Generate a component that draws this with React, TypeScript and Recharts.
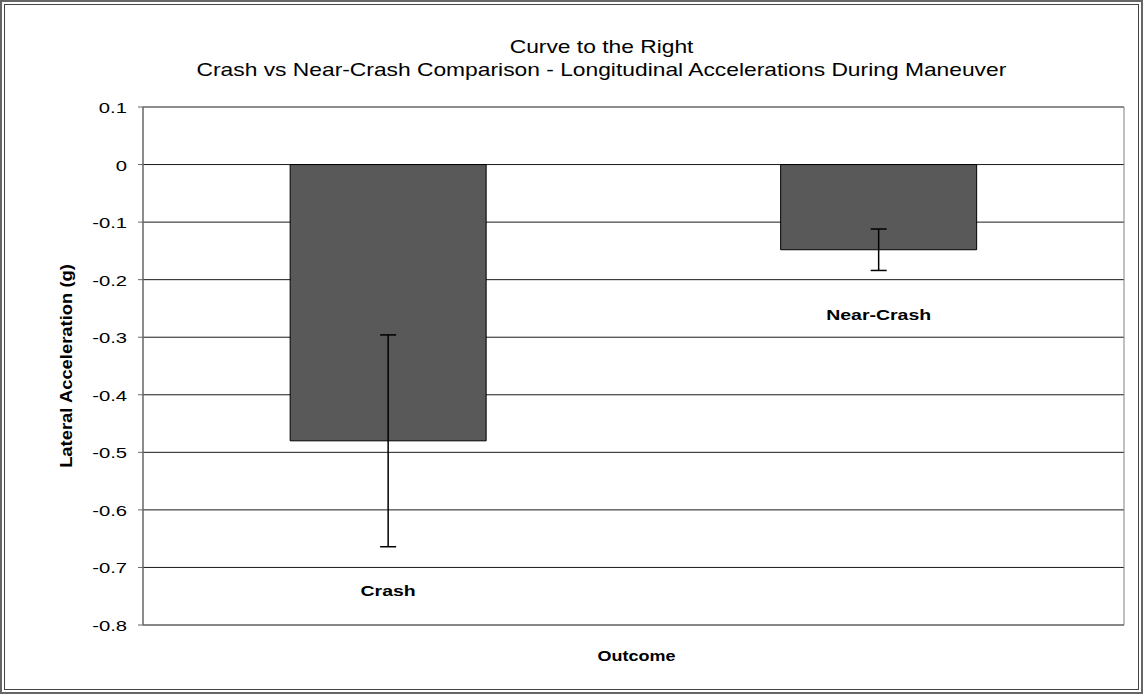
import { BarChart, Bar, XAxis, YAxis, CartesianGrid, ErrorBar, LabelList } from "recharts";

// values
const outcomes = ["Crash", "Near-Crash"];
const meanAccel = [-0.48, -0.148];
const accelError = [0.184, 0.036];
const yTicks = [0.1, 0, -0.1, -0.2, -0.3, -0.4, -0.5, -0.6, -0.7, -0.8];

const titleLines = [
  "Curve to the Right",
  "Crash vs Near-Crash Comparison - Longitudinal Accelerations During Maneuver",
];

const chartData = outcomes.map((name, i) => ({
  name,
  value: meanAccel[i],
  err: accelError[i],
}));

const FONT = "'Liberation Sans', Arial, sans-serif";

// the original scan is stretched sideways, so text gets a horizontal scale
const WideText = ({ x, y, sx = 1.3, size = 15, bold = false, anchor = "middle", rotate = 0, children }: any) => (
  <text
    transform={`translate(${x},${y}) rotate(${rotate}) scale(${sx},1)`}
    x={0}
    y={0}
    textAnchor={anchor}
    dominantBaseline="central"
    fontFamily={FONT}
    fontSize={size}
    fontWeight={bold ? "bold" : "normal"}
    fill="#000"
  >
    {children}
  </text>
);

// category names sit under each bar's error bar, like the Excel original
const CategoryLabel = (props: any) => {
  const vb = props.viewBox || props;
  const name = props.value;
  const i = typeof props.index === "number" ? props.index : outcomes.indexOf(name);
  const v = meanAccel[i];
  const top = Math.min(vb.y, vb.y + vb.height);
  const bottom = Math.max(vb.y, vb.y + vb.height);
  const ppu = (bottom - top) / Math.abs(v);
  const ly = bottom + accelError[i] * ppu + 44;
  return (
    <WideText x={vb.x + vb.width / 2} y={ly} size={15} sx={1.3} bold>
      {name}
    </WideText>
  );
};

const YTick = (props: any) => {
  const { x, y, payload } = props;
  const label = String(Math.round(payload.value * 10) / 10);
  return (
    <WideText x={x} y={y + 1} size={15} sx={1.35} anchor="end">
      {label}
    </WideText>
  );
};

const YLabel = (props: any) => {
  const vb = props.viewBox;
  const cy = vb.y + vb.height / 2;
  // rotated text: stretch along its own length
  return (
    <WideText x={66} y={cy} size={16} sx={1.15} bold rotate={-90}>
      Lateral Acceleration (g)
    </WideText>
  );
};

const XLabel = (props: any) => {
  const vb = props.viewBox;
  return (
    <WideText x={vb.x + vb.width / 2 + 3} y={656} size={15} sx={1.2} bold>
      Outcome
    </WideText>
  );
};

export default function App() {
  return (
    <div
      style={{
        position: "fixed",
        left: 0,
        top: 0,
        width: 1143,
        height: 694,
        background: "#fff",
        fontFamily: FONT,
      }}
    >
      {/* double frame */}
      <div
        style={{
          position: "absolute",
          left: 0,
          top: 0,
          width: 1143,
          height: 694,
          boxSizing: "border-box",
          border: "2px solid #666",
        }}
      />
      <div
        style={{
          position: "absolute",
          left: 4,
          top: 4,
          width: 1135,
          height: 686,
          boxSizing: "border-box",
          border: "1px solid #444",
        }}
      />
      <div
        style={{
          position: "absolute",
          left: 0,
          top: 35,
          width: 1203,
          textAlign: "center",
          fontSize: 19,
          lineHeight: "23px",
          color: "#000",
        }}
      >
        {titleLines.map((t) => (
          <div key={t}>
            <span style={{ display: "inline-block", transform: "scaleX(1.2)" }}>{t}</span>
          </div>
        ))}
      </div>
      <div style={{ position: "absolute", left: 0, top: 0 }}>
        <BarChart
          width={1143}
          height={694}
          data={chartData}
          margin={{ top: 107, right: 18, left: 0, bottom: 0 }}
          barCategoryGap="30%"
        >
          <CartesianGrid vertical={false} stroke="#1a1a1a" strokeWidth={1} />
          <XAxis
            dataKey="name"
            tick={false}
            tickLine={false}
            height={69}
            axisLine={{ stroke: "#808080" }}
            label={<XLabel />}
          />
          <YAxis
            domain={[-0.8, 0.1]}
            ticks={yTicks}
            interval={0}
            width={143}
            tickSize={5}
            tickMargin={11}
            tickLine={{ stroke: "#666" }}
            axisLine={{ stroke: "#666", strokeWidth: 1.5 }}
            tick={<YTick />}
            label={<YLabel />}
          />
          <YAxis
            yAxisId="frame"
            orientation="right"
            domain={[-0.8, 0.1]}
            width={1}
            tick={false}
            tickLine={false}
            axisLine={{ stroke: "#808080" }}
          />
          <Bar
            dataKey="value"
            fill="#595959"
            stroke="#000"
            strokeWidth={1}
            isAnimationActive={false}
          >
            <ErrorBar
              dataKey="err"
              width={8}
              stroke="#000"
              strokeWidth={1.5}
              direction="y"
            />
            <LabelList dataKey="name" content={CategoryLabel} />
          </Bar>
        </BarChart>
      </div>
    </div>
  );
}
